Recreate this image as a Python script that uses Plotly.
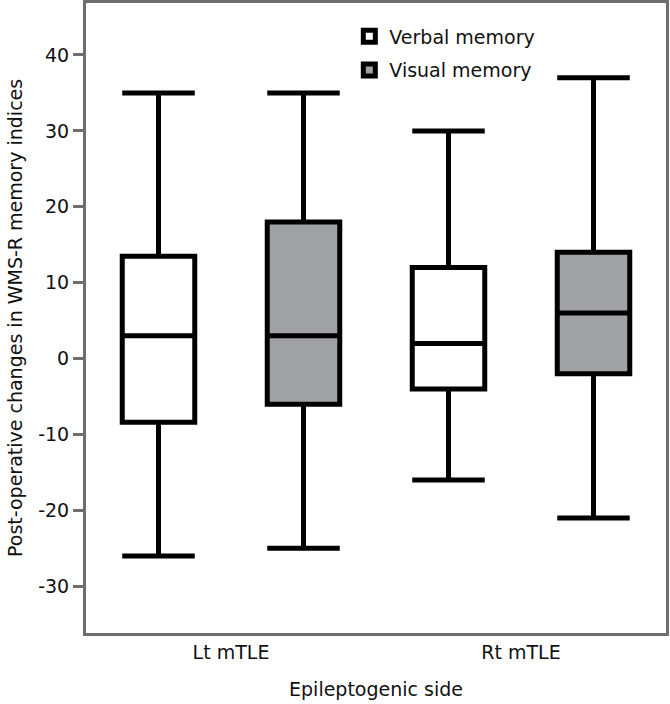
import plotly.graph_objects as go

categories = ["Lt mTLE", "Rt mTLE"]
series_names = ["Verbal memory", "Visual memory"]
verbal_lower = [-26, -16]
verbal_q1 = [-8.4, -4]
verbal_median = [3, 2]
verbal_q3 = [13.5, 12]
verbal_upper = [35, 30]
visual_lower = [-25, -21]
visual_q1 = [-6, -2]
visual_median = [3, 6]
visual_q3 = [18, 14]
visual_upper = [35, 37]
y_ticks = [-30, -20, -10, 0, 10, 20, 30, 40]
y_tick_labels = ["-30", "-20", "-10", "0", "10", "20", "30", "40"]
y_title = "Post-operative changes in WMS-R memory indices"
x_title = "Epileptogenic side"

FONT = "DejaVu Sans"
fig = go.Figure()
fig.add_trace(go.Box(
    name=series_names[0], x=categories,
    lowerfence=verbal_lower, q1=verbal_q1, median=verbal_median,
    q3=verbal_q3, upperfence=verbal_upper,
    fillcolor="white", line=dict(color="black", width=5),
    whiskerwidth=1, legendgroup="a", hoverinfo="skip"))
fig.add_trace(go.Box(
    name=series_names[1], x=categories,
    lowerfence=visual_lower, q1=visual_q1, median=visual_median,
    q3=visual_q3, upperfence=visual_upper,
    fillcolor="#a0a1a5", line=dict(color="black", width=5),
    whiskerwidth=1, legendgroup="b", hoverinfo="skip"))

fig.update_layout(
    template="none",
    width=670, height=704,
    margin=dict(l=86, r=4, t=3, b=71, autoexpand=False),
    paper_bgcolor="white", plot_bgcolor="white",
    boxmode="group", boxgap=0.0, boxgroupgap=0.5,
    font=dict(family=FONT, size=19, color="#111111"),
    showlegend=True,
    legend=dict(x=0.454, y=0.977, xanchor="left", yanchor="top",
                bgcolor="rgba(0,0,0,0)", traceorder="grouped",
                tracegroupgap=6, font=dict(size=19)),
    xaxis=dict(range=[-0.5, 1.5], showgrid=False, ticks="", automargin=False,
               showline=True, linecolor="#6e6e6e", linewidth=3, mirror=True,
               tickfont=dict(size=19),
               title=dict(text=x_title, font=dict(size=19), standoff=21)),
    yaxis=dict(range=[-36.15, 46.85], tickvals=y_ticks, ticktext=y_tick_labels,
               showgrid=False,
               zeroline=False, ticks="outside", ticklen=10, tickwidth=3,
               tickcolor="#6e6e6e", automargin=False,
               showline=True, linecolor="#6e6e6e", linewidth=3, mirror=True,
               tickfont=dict(size=19)),
    annotations=[dict(text=y_title, xref="paper", yref="paper",
                      x=-0.1224, y=0.5, xanchor="center", yanchor="middle",
                      textangle=-90, showarrow=False, font=dict(size=19))],
)
fig.write_html("out.html", config={"displayModeBar": False},
               post_script="document.body.style.margin='0';document.body.style.overflow='hidden';")
